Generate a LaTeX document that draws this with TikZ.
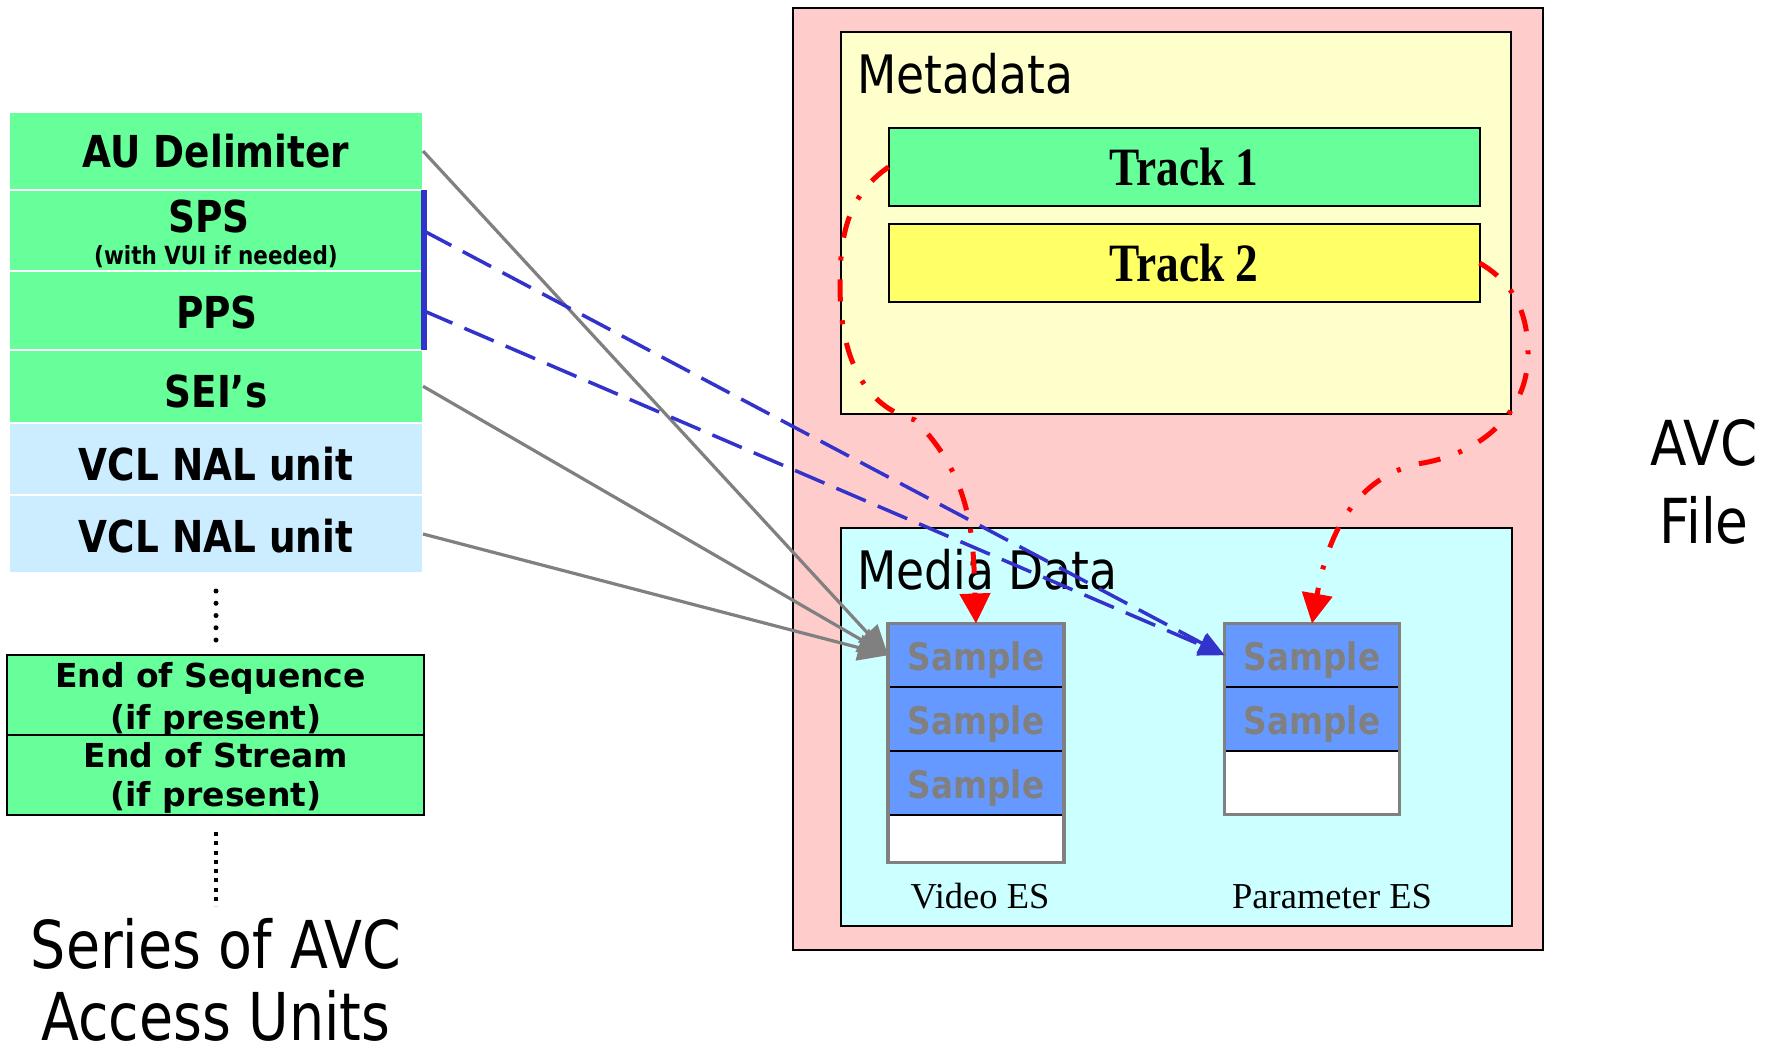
\documentclass[tikz,border=0pt]{standalone}
\usepackage{fontspec}
\usepackage{graphicx}
\setmainfont{DejaVu Sans}
\newfontfamily\timesface{Liberation Serif}
\usetikzlibrary{arrows.meta}

\definecolor{unitgreen}{HTML}{66FF99}
\definecolor{vclblue}{HTML}{CCECFF}
\definecolor{filepink}{HTML}{FFCCCC}
\definecolor{metayellow}{HTML}{FFFFCC}
\definecolor{tracktwo}{HTML}{FFFF66}
\definecolor{mediacyan}{HTML}{CCFFFF}
\definecolor{sampleblue}{HTML}{6699FF}
\definecolor{linkgray}{HTML}{808080}
\definecolor{paramblue}{HTML}{3333CC}
\definecolor{trackred}{HTML}{FF0000}

% horizontal squeeze for the narrow lettering
\newcommand{\squeeze}[2]{\scalebox{#1}[1]{#2}}

\begin{document}
\begin{tikzpicture}[x=1pt, y=1pt,
  unitbox/.style={draw=white, line width=2pt, minimum width=414pt, inner sep=0pt, outer sep=0pt},
  endbox/.style={draw=black, line width=2pt, fill=unitgreen, minimum width=417pt, minimum height=80pt, inner sep=0pt, outer sep=0pt},
  frame/.style={draw=black, line width=2pt, inner sep=0pt, outer sep=0pt},
  bigbold/.style={inner sep=0pt, anchor=base, font=\bfseries\fontsize{44}{50}\selectfont},
  endlbl/.style={inner sep=0pt, anchor=base, font=\bfseries\fontsize{33}{40}\selectfont},
  caption/.style={inner sep=0pt, anchor=base, font=\fontsize{66}{78}\selectfont},
  sidecap/.style={inner sep=0pt, anchor=base, font=\fontsize{62}{74}\selectfont},
  boxtitle/.style={inner sep=0pt, anchor=base west, font=\fontsize{53}{60}\selectfont},
  trackbox/.style={frame, minimum width=591pt, minimum height=78pt, font=\timesface\bfseries\fontsize{54}{60}\selectfont},
  cell/.style={draw=black, line width=2pt, inner sep=0pt, outer sep=0pt, text=linkgray,
    text height=31pt, text depth=0pt, font=\bfseries\fontsize{38}{44}\selectfont},
  eslbl/.style={inner sep=0pt, anchor=base, font=\timesface\fontsize{36.5}{42}\selectfont},
  grayconn/.style={draw=linkgray, line width=3.2pt, -{Triangle[length=30pt, width=26pt]}},
  blueconn/.style={draw=paramblue, line width=3.5pt, dash pattern=on 32pt off 13pt,
    -{Triangle[length=26pt, width=22pt]}},
  redconn/.style={draw=trackred, line width=5pt, dash pattern=on 22pt off 19pt on 4pt off 19pt,
    -{Triangle[length=30pt, width=30pt]}}
]
\fill[white] (0,0) rectangle (1779,-1048);
\useasboundingbox (0,0) rectangle (1779,-1048);

% ---------- access unit column ----------
\node[unitbox, fill=unitgreen, minimum height=78pt]   (au)   at (216,-151) {};
\node[unitbox, fill=unitgreen, minimum height=81pt]   (sps)  at (216,-230.5) {};
\node[unitbox, fill=unitgreen, minimum height=79pt]   (pps)  at (216,-310.5) {};
\node[unitbox, fill=unitgreen, minimum height=72.5pt] (sei)  at (216,-386.25) {};
\node[unitbox, fill=vclblue,   minimum height=72.5pt] (vcla) at (216,-458.75) {};
\node[unitbox, fill=vclblue,   minimum height=78pt]   (vclb) at (216,-534) {};

\node[bigbold] (au-lbl)   at (216,-168) {\squeeze{0.85}{AU Delimiter}};
\node[bigbold] (sps-lbl)  at (209,-233) {\squeeze{0.85}{SPS}};
\node[inner sep=0pt, anchor=base, font=\bfseries\fontsize{25}{30}\selectfont]
      (vui-lbl)  at (216,-265) {\squeeze{0.86}{(with VUI if needed)}};
\node[bigbold] (pps-lbl)  at (217,-328) {\squeeze{0.85}{PPS}};
\node[bigbold] (sei-lbl)  at (216,-407) {\squeeze{0.85}{SEI’s}};
\node[bigbold] (vcla-lbl) at (216,-480) {\squeeze{0.85}{VCL NAL unit}};
\node[bigbold] (vclb-lbl) at (216,-552) {\squeeze{0.85}{VCL NAL unit}};

% continuation dots
\draw[line width=5pt, line cap=round, dash pattern=on 0pt off 12.25pt] (216,-591) -- (216,-640.1);

\node[endbox] (eoseq) at (215.5,-695) {};
\node[endbox] (eostr) at (215.5,-775) {};
\node[endlbl] (eoseq-a) at (210.5,-687) {End of Sequence};
\node[endlbl] (eoseq-b) at (216,-729) {(if present)};
\node[endlbl] (eostr-a) at (216,-767) {End of Stream};
\node[endlbl] (eostr-b) at (216,-806) {(if present)};

\draw[line width=4pt, dash pattern=on 4pt off 5.25pt] (216,-832) -- (216,-906);

\node[caption] (series-a) at (216,-968)  {\squeeze{0.84}{Series of AVC}};
\node[caption] (series-b) at (216,-1040) {\squeeze{0.84}{Access Units}};

% ---------- AVC file ----------
\node[frame, fill=filepink, minimum width=750pt, minimum height=942pt] (file) at (1168,-479) {};
\node[frame, fill=metayellow, minimum width=670pt, minimum height=382pt] (meta) at (1176,-223) {};
\node[boxtitle] (meta-lbl) at (857,-94) {\squeeze{0.86}{Metadata}};
\node[trackbox, fill=unitgreen] (t1) at (1184,-167) {\squeeze{0.84}{Track 1}};
\node[trackbox, fill=tracktwo]  (t2) at (1184,-263) {\squeeze{0.84}{Track 2}};

\node[frame, fill=mediacyan, minimum width=671pt, minimum height=398pt] (media) at (1176.5,-727) {};
\node[boxtitle] (media-lbl) at (857,-589) {\squeeze{0.86}{Media Data}};

% video elementary stream
\node[cell, fill=sampleblue, minimum width=176pt, minimum height=63.5pt] (vs1) at (976,-655.25) {\squeeze{0.86}{Sample}};
\node[cell, fill=sampleblue, minimum width=176pt, minimum height=64pt]   (vs2) at (976,-719) {\squeeze{0.86}{Sample}};
\node[cell, fill=sampleblue, minimum width=176pt, minimum height=64pt]   (vs3) at (976,-783) {\squeeze{0.86}{Sample}};
\node[cell, fill=white,      minimum width=176pt, minimum height=47.5pt] (vs4) at (976,-838.75) {};
\draw[linkgray, line width=3.5pt] (vs1.north west) rectangle (vs4.south east);
\node[eslbl] (vs-lbl) at (980,-908) {Video ES};

% parameter elementary stream
\node[cell, fill=sampleblue, minimum width=174.6pt, minimum height=63.5pt] (ps1) at (1312,-655.25) {\squeeze{0.86}{Sample}};
\node[cell, fill=sampleblue, minimum width=174.6pt, minimum height=64pt]   (ps2) at (1312,-719) {\squeeze{0.86}{Sample}};
\node[cell, fill=white,      minimum width=174.6pt, minimum height=63.5pt] (ps3) at (1312,-782.75) {};
\draw[linkgray, line width=3.5pt] (ps1.north west) rectangle (ps3.south east);
\node[eslbl] (ps-lbl) at (1332,-908) {Parameter ES};

\node[sidecap] (avc-a) at (1704,-465) {\squeeze{0.86}{AVC}};
\node[sidecap] (avc-b) at (1704,-543) {\squeeze{0.86}{File}};

% ---------- connectors ----------
\draw[grayconn] (au.east)   -- (vs1.west);
\draw[grayconn] (sei.east)  -- (vs1.west);
\draw[grayconn] (vclb.east) -- (vs1.west);

\draw[blueconn] (sps.east) -- (ps1.west);
\draw[blueconn] (pps.east) -- (ps1.west);
\draw[draw=paramblue, line width=6pt] ([xshift=1pt]sps.north east) -- ([xshift=1pt]pps.south east);

\draw[redconn] (t1.west) to[out=215, in=90] (840,-285)
               to[out=-90, in=165] (915,-420)
               to[out=-45, in=92] (vs1.north);
\draw[redconn] (t2.east) to[out=-30, in=90] (1528,-354)
               to[out=-90, in=10] (1423,-463)
               to[out=190, in=80] (ps1.north);
\end{tikzpicture}
\end{document}
